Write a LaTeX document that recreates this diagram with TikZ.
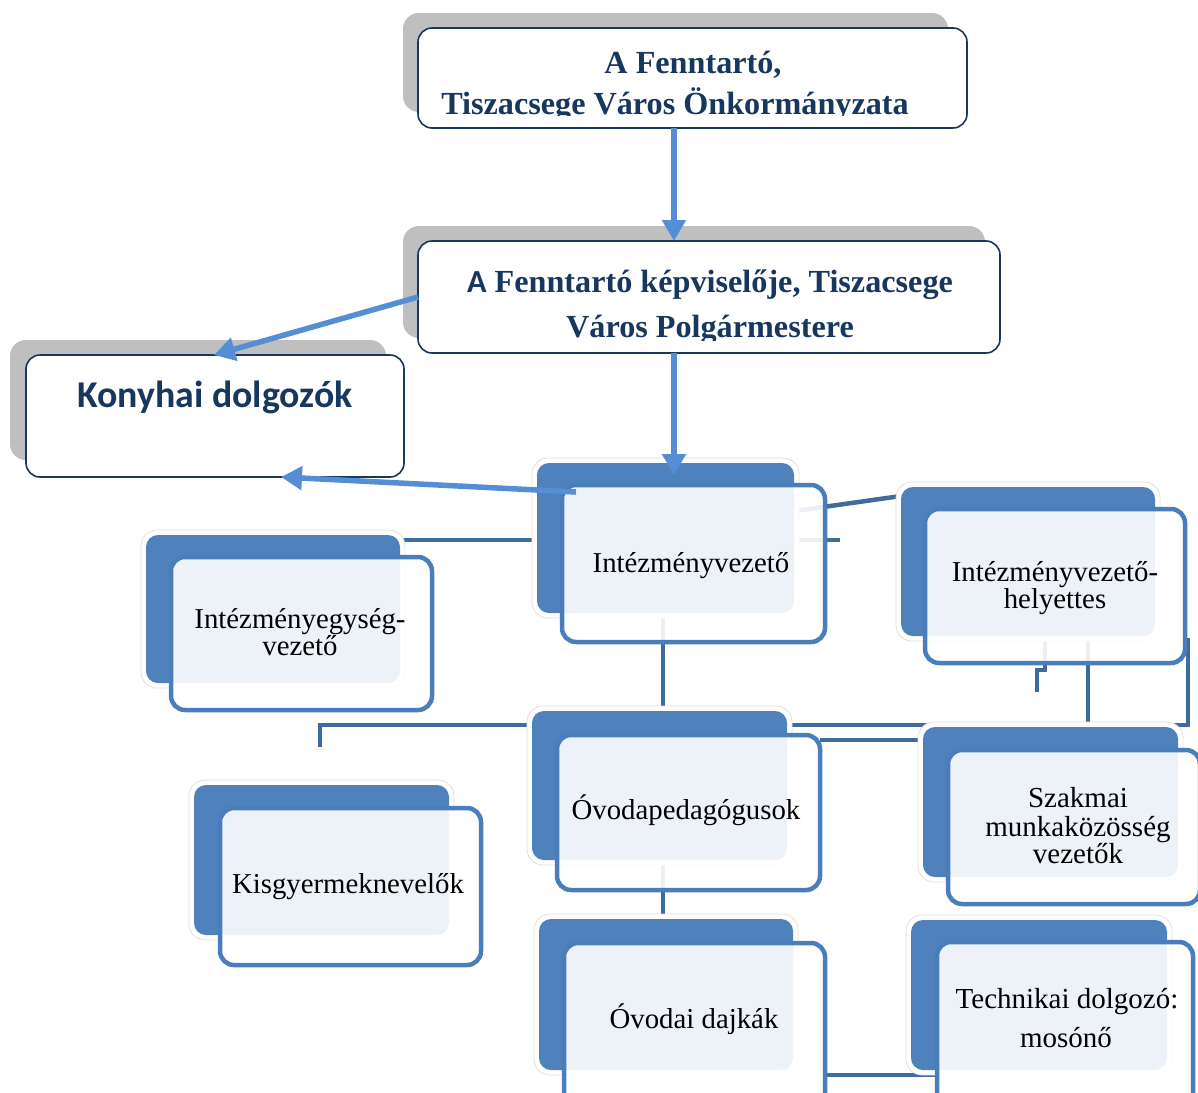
\documentclass[tikz,border=0pt]{standalone}
\usepackage{fontspec}
\setmainfont{Liberation Serif}
\newfontfamily\calibf{Carlito}
\usetikzlibrary{arrows.meta,calc}
\definecolor{navy}{HTML}{17375E}
\definecolor{shadowgray}{HTML}{BFBFBF}
\definecolor{arrblue}{HTML}{558ED5}
\definecolor{dkblue}{HTML}{4F81BD}
\definecolor{lnblue}{HTML}{3E6C9E}
\definecolor{bordblue}{HTML}{4A7EBB}
\pgfdeclarelayer{bg}
\pgfsetlayers{bg,main}
\tikzset{
  grayshadow/.style={fill=shadowgray, rounded corners=16pt, inner sep=0pt, outer sep=0pt, anchor=north west},
  whitebox/.style={fill=white, draw=navy, line width=1.6pt, rounded corners=14pt, inner sep=0pt, outer sep=0pt, anchor=north west},
  halo/.style={fill=white, draw=black!12, line width=0.8pt, rounded corners=16pt, inner sep=0pt, outer sep=0pt, anchor=north west},
  backbox/.style={fill=dkblue, rounded corners=12pt, inner sep=0pt, outer sep=0pt, anchor=north west},
  frontbox/.style={fill=white, fill opacity=0.9, draw=bordblue, draw opacity=1, line width=4.5pt, rounded corners=14pt, inner sep=0pt, outer sep=0pt, anchor=north west},
  conn/.style={draw=lnblue, line width=4.5pt},
  arr/.style={draw=arrblue, line width=5.5pt, -{Triangle[width=23pt,length=21pt]}},
  lbl/.style={anchor=base, inner sep=0pt, outer sep=0pt, text=black, font=\fontsize{28.8}{30}\selectfont},
  toplbl/.style={anchor=base, inner sep=0pt, outer sep=0pt, text=navy, font=\bfseries\fontsize{32.2}{36}\selectfont},
}
\newcommand\orgbox[9]{%
  \pgfmathsetmacro\obw{#4-#2}%
  \pgfmathsetmacro\obh{#5-#3}%
  \pgfmathsetmacro\ofw{#8-#6}%
  \pgfmathsetmacro\ofh{#9-#7}%
  \node[halo, minimum width=\obw pt+10pt, minimum height=\obh pt+10pt] (#1H) at (#2-5,#3-5) {};%
  \node[backbox, minimum width=\obw pt, minimum height=\obh pt] (#1B) at (#2,#3) {};%
  \node[frontbox, minimum width=\ofw pt, minimum height=\ofh pt] (#1F) at (#6,#7) {};%
}
\newcommand\grbox[9]{%
  \pgfmathsetmacro\obw{#4-#2}%
  \pgfmathsetmacro\obh{#5-#3}%
  \pgfmathsetmacro\ofw{#8-#6}%
  \pgfmathsetmacro\ofh{#9-#7}%
  \node[grayshadow, minimum width=\obw pt, minimum height=\obh pt] (#1S) at (#2,#3) {};%
  \node[whitebox, minimum width=\ofw pt, minimum height=\ofh pt] (#1F) at (#6,#7) {};%
}
\begin{document}
\begin{tikzpicture}[x=1pt,y=-1pt]
\useasboundingbox (0,0) rectangle (1198,1092);
% helper coordinates
\coordinate (hy540) at (0,540);
\coordinate (hy670) at (0,670);
\coordinate (hy725) at (0,725);
\coordinate (hy740) at (0,740);
\coordinate (hy1075) at (0,1075);
\coordinate (hy115) at (0,115);
\coordinate (hy340) at (0,340);
\coordinate (cx663) at (663,0);
\coordinate (cx1088) at (1088,0);
\coordinate (cx1045) at (1045,0);
\coordinate (ax) at (674,0);
\coordinate (kx1) at (214,0);
\coordinate (kx2) at (281,0);
\coordinate (c840) at (840,540);
\coordinate (k1) at (320,747);
\coordinate (k2) at (1188,638);
\coordinate (b1) at (1037,692);
\coordinate (a4s) at (576,492);

% top boxes
\grbox{box1}{403}{13}{948}{112}{418}{28}{967}{128}
\grbox{box2}{403}{226}{985}{338}{418}{241}{1000}{353}
\grbox{kon}{10}{340}{386}{460}{26}{355}{404}{477}

% blue boxes
\orgbox{iv}{537}{463}{794}{613}{562}{485}{825}{642}
\orgbox{ie}{146}{535}{400}{683}{171}{557}{432}{710}
\orgbox{hel}{901}{487}{1155}{636}{925}{509}{1185}{663}
\orgbox{ovp}{532}{711}{787}{860}{557}{735}{820}{890}
\orgbox{kis}{194}{785}{449}{935}{220}{808}{481}{965}
\orgbox{daj}{539}{919}{793}{1070}{564}{943}{825}{1110}
\orgbox{sz}{923}{727}{1178}{877}{948}{750}{1200}{904}
\orgbox{tech}{911}{920}{1167}{1070}{937}{942}{1193}{1110}

% connectors behind
\begin{pgfonlayer}{bg}
\draw[conn] (ieB.center |- hy540) -- (c840);
\draw[conn] ($(ivF.north east)+(-30,26)$) -- ($(helB.north west)+(0,9)$);
\draw[conn] (ivB.center -| cx663) -- (ovpB.center -| cx663);
\draw[conn] (k1) -- (k1 |- hy725) -- (k2 |- hy725) -- (k2);
\draw[conn] (helB.center -| cx1088) -- (cx1088 |- hy725);
\draw[conn] (helB.center -| cx1045) -- (cx1045 |- hy670) -- (b1 |- hy670) -- (b1);
\draw[conn] (ovpF.east |- hy740) -- (szB.center |- hy740);
\draw[conn] (ovpB.center -| cx663) -- (dajB.center -| cx663);
\draw[conn] (dajF.east |- hy1075) -- (techF.west |- hy1075);
\end{pgfonlayer}

% top texts
\begin{scope}
\clip (box1F.north west) rectangle (box1F.east |- hy115);
\node[toplbl] (t1a) at (693,73) {A Fenntartó,};
\node[toplbl] (t1b) at (675,114) {Tiszacsege Város Önkormányzata};
\end{scope}
\begin{scope}
\clip (box2F.north west) rectangle (box2F.east |- hy340);
\node[toplbl] (t2a) at (710,292) {{\calibf A} Fenntartó képviselője, Tiszacsege};
\node[toplbl] (t2b) at (710,337) {Város Polgármestere};
\end{scope}
\node[toplbl, font=\calibf\bfseries\fontsize{37.8}{40}\selectfont] (tkon) at (215,407) {Konyhai dolgozók};

% blue box labels
\node[lbl] (tiv) at (691,572) {Intézményvezető};
\node[lbl] (tie1) at (300,628) {Intézményegység-};
\node[lbl] (tie2) at (300,655) {vezető};
\node[lbl] (thel1) at (1055,581) {Intézményvezető-};
\node[lbl] (thel2) at (1055,608) {helyettes};
\node[lbl] (tovp) at (686,819) {Óvodapedagógusok};
\node[lbl] (tkis) at (348,893) {Kisgyermeknevelők};
\node[lbl] (tdaj) at (694,1028) {Óvodai dajkák};
\node[lbl, font=\fontsize{29}{30}\selectfont] (tsz1) at (1078,807) {Szakmai};
\node[lbl, font=\fontsize{29}{30}\selectfont] (tsz2) at (1078,836) {munkaközösség};
\node[lbl, font=\fontsize{29}{30}\selectfont] (tsz3) at (1078,863) {vezetők};
\node[lbl, font=\fontsize{29}{30}\selectfont] (tte1) at (1067,1008) {Technikai dolgozó:};
\node[lbl, font=\fontsize{29}{30}\selectfont] (tte2) at (1066,1047) {mosónő};

% arrows
\draw[arr] (box1F.south -| ax) -- (box2F.north -| ax);
\draw[arr] (box2F.south -| ax) -- ($(ivB.north -| ax)+(0,12)$);
\draw[arr] (box2F.west) -- (konF.north -| kx1);
\draw[arr] (a4s) -- (konF.south -| kx2);
\end{tikzpicture}
\end{document}
